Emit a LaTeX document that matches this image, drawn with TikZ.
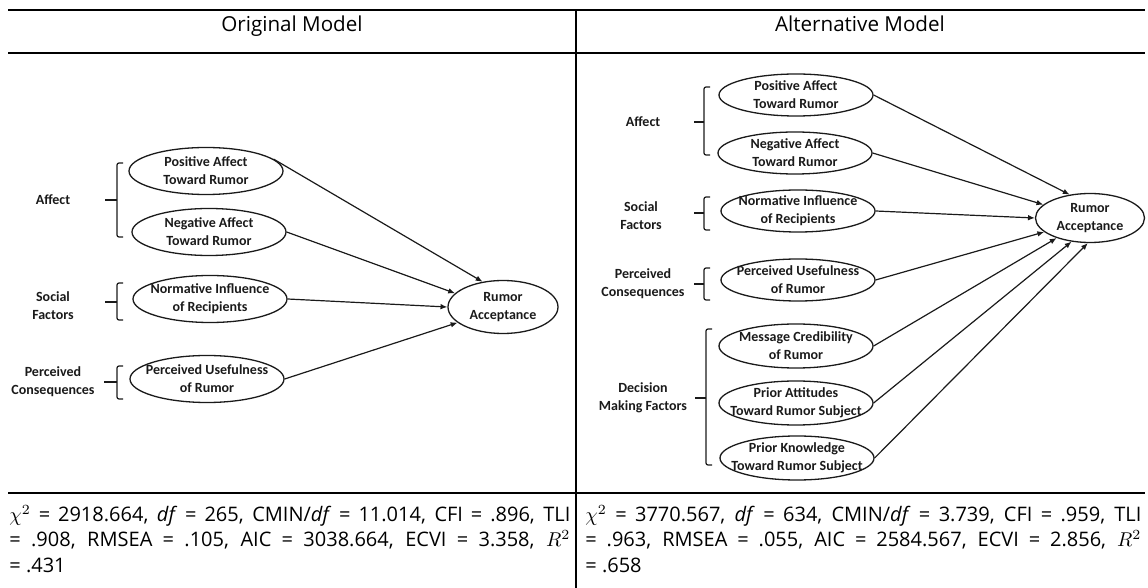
\documentclass[tikz,border=0pt]{standalone}
\usepackage{fontspec}
\usepackage{tikz}
\usetikzlibrary{shapes.geometric,arrows.meta}
\setmainfont{Open Sans}
\newfontfamily\nodefont{Carlito}
\definecolor{ink}{HTML}{1A1A1A}
\tikzset{
  ell/.style={draw=ink, ellipse, line width=0.65pt, inner sep=0pt, minimum width=77pt, minimum height=23.5pt},
  ellr/.style={ell, minimum height=21pt},
  lab/.style={font=\nodefont\bfseries\fontsize{7}{9}\selectfont, align=center, inner sep=0pt, text=ink},
  arr/.style={draw=ink, line width=0.6pt, -{Latex[length=3.4pt,width=2.8pt]}},
  brk/.style={draw=ink, line width=0.6pt, rounded corners=1pt},
  rulethick/.style={draw=black, line width=1pt},
  rulethin/.style={draw=black, line width=0.6pt},
  head/.style={font=\fontsize{10.3}{12}\selectfont, inner sep=0pt, anchor=base},
  stats/.style={font=\fontsize{10}{12.6}\selectfont, inner sep=0pt, anchor=north west, align=justify}
}

\begin{document}
\begin{tikzpicture}[x=0.5pt, y=-0.5pt]
  \useasboundingbox (0,0) rectangle (1148,588);

  % table rules
  \draw[rulethick] (8,10) -- (1145,10);
  \draw[rulethick] (8,53) -- (1145,53);
  \draw[rulethin] (8,493) -- (1145,493);
  \draw[rulethin] (576,10) -- (576,588);

  \node[head] (hleft) at (292,32) {Original Model};
  \node[head] (hright) at (860,32) {Alternative Model};

  % original model
  \node[ell, label={[lab]center:{Positive Affect\\Toward Rumor}}] (pa) at (206,171) {};
  \node[ell, label={[lab]center:{Negative Affect\\Toward Rumor}}] (na) at (209,232) {};
  \node[ell, label={[lab]center:{Normative Influence\\of Recipients}}] (ni) at (210,299) {};
  \node[ell, label={[lab]center:{Perceived Usefulness\\of Rumor}}] (pu) at (207,379) {};
  \node[ell, minimum width=55pt, minimum height=26.5pt, label={[lab]center:{Rumor\\Acceptance}}] (ra) at (503,307) {};

  \node[lab] (gaff) at (53,200) {Affect};
  \node[lab] (gsoc) at (53,306) {Social\\Factors};
  \node[lab] (gcon) at (53,382) {Perceived\\Consequences};

  \draw[brk] (123,163) -- (117,163) -- (117,237) -- (123,237);
  \draw[brk] (105,200) -- (117,200);
  \draw[brk] (123,283) -- (117,283) -- (117,320) -- (123,320);
  \draw[brk] (105,302) -- (117,302);
  \draw[brk] (123,366) -- (117,366) -- (117,399) -- (123,399);
  \draw[brk] (104,382) -- (117,382);

  \draw[arr] (pa.10) -- (ra.129);
  \draw[arr] (na.east) -- (ra.164);
  \draw[arr] (ni.east) -- (ra.180);
  \draw[arr] (pu.east) -- (ra.199);

  % alternative model
  \node[ellr, label={[lab]center:{Positive Affect\\Toward Rumor}}] (pa2) at (796,95) {};
  \node[ellr, label={[lab]center:{Negative Affect\\Toward Rumor}}] (na2) at (795,153) {};
  \node[ellr, label={[lab]center:{Normative Influence\\of Recipients}}] (ni2) at (798,211) {};
  \node[ellr, label={[lab]center:{Perceived Usefulness\\of Rumor}}] (pu2) at (798,280) {};
  \node[ellr, minimum height=22pt, label={[lab]center:{Message Credibility\\of Rumor}}] (mc) at (796,346) {};
  \node[ellr, minimum height=22pt, label={[lab]center:{Prior Attitudes\\Toward Rumor Subject}}] (pat) at (796,403) {};
  \node[ellr, minimum height=22pt, label={[lab]center:{Prior Knowledge\\Toward Rumor Subject}}] (pk) at (797,458) {};
  \node[ell, minimum width=54.5pt, minimum height=24.5pt, label={[lab]center:{Rumor\\Acceptance}}] (ra2) at (1090,218) {};

  \node[lab] (gaff2) at (643,122) {Affect};
  \node[lab] (gsoc2) at (641,216) {Social\\Factors};
  \node[lab] (gcon2) at (643,284) {Perceived\\Consequences};
  \node[lab] (gdec2) at (643,398) {Decision\\Making Factors};

  \draw[brk] (710,87) -- (704,87) -- (704,155) -- (710,155);
  \draw[brk] (694,122) -- (704,122);
  \draw[brk] (710,197) -- (704,197) -- (704,230) -- (710,230);
  \draw[brk] (694,213) -- (704,213);
  \draw[brk] (710,268) -- (704,268) -- (704,300) -- (710,300);
  \draw[brk] (694,284) -- (704,284);
  \draw[brk] (712,329) -- (706,329) -- (706,465) -- (712,465);
  \draw[brk] (695,398) -- (706,398);

  \draw[arr] (pa2.east) -- (ra2.131);
  \draw[arr] (na2.east) -- (ra2.164);
  \draw[arr] (ni2.east) -- (ra2.180);
  \draw[arr] (pu2.east) -- (ra2.197);
  \draw[arr] (mc.east) -- (ra2.211);
  \draw[arr] (pat.east) -- (ra2.232);
  \draw[arr] (pk.east) -- (ra2.265);

  % fit indices
  \node[stats, text width=280.5pt] (fitl) at (9,505)
    {$\chi^2$ = 2918.664, \textit{df} = 265, CMIN/\textit{df} = 11.014, CFI = .896, TLI\linebreak
     = .908, RMSEA = .105, AIC = 3038.664, ECVI = 3.358, $R^2$\linebreak = .431};
  \node[stats, text width=278pt] (fitr) at (585,505)
    {$\chi^2$ = 3770.567, \textit{df} = 634, CMIN/\textit{df} = 3.739, CFI = .959, TLI\linebreak
     = .963, RMSEA = .055, AIC = 2584.567, ECVI = 2.856, $R^2$\linebreak = .658};
\end{tikzpicture}
\end{document}
